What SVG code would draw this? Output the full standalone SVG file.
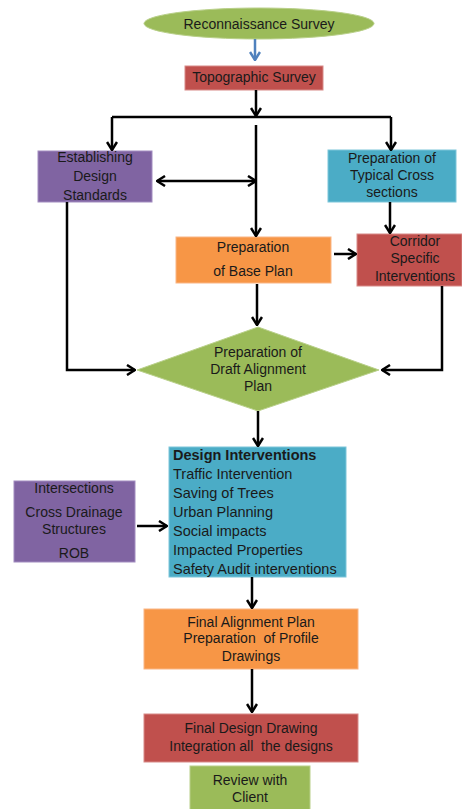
<svg xmlns="http://www.w3.org/2000/svg" width="462" height="809" viewBox="0 0 462 809">
<style>
text{font-family:"Liberation Sans",Arial,sans-serif;font-size:14px;fill:#1a1a1a;text-anchor:middle}
.l{text-anchor:start;font-size:14.5px}
.b{font-weight:bold}
.c{fill:none;stroke:#000;stroke-width:2.5}
.purple{fill:#8064A2;stroke:#A28CC0;stroke-width:1}
.blue{fill:#4BACC6;stroke:#7CC6DA;stroke-width:1}
.red{fill:#C0504D;stroke:#D88A88;stroke-width:1}
.orange{fill:#F79646;stroke:#FAB685;stroke-width:1}
.green{fill:#9BBB59;stroke:#B9D08A;stroke-width:1}
</style>
<defs>
<marker id="ah" viewBox="0 0 10 12" markerWidth="10" markerHeight="12" refX="9" refY="6" orient="auto-start-reverse" markerUnits="userSpaceOnUse">
<path d="M1,1 L9,6 L1,11" fill="none" stroke="#000" stroke-width="2.5"/>
</marker>
<marker id="ahb" viewBox="0 0 10 12" markerWidth="10" markerHeight="12" refX="9" refY="6" orient="auto" markerUnits="userSpaceOnUse">
<path d="M1,1 L9,6 L1,11" fill="none" stroke="#4F81BD" stroke-width="2.5"/>
</marker>
</defs>
<g id="n-recon"><ellipse class="green" cx="259" cy="23.5" rx="115" ry="15.5"/><text x="259" y="28.5">Reconnaissance Survey</text></g>
<g id="n-topo"><rect class="red" x="185" y="66" width="138" height="24"/><text x="254" y="82">Topographic Survey</text></g>
<g id="n-estab"><rect class="purple" x="38" y="151" width="114" height="51"/><text x="95" y="162">Establishing</text><text x="95" y="181">Design</text><text x="95" y="200">Standards</text></g>
<g id="n-cross"><rect class="blue" x="328" y="150" width="128" height="52"/><text x="392" y="163">Preparation of</text><text x="392" y="180">Typical Cross</text><text x="392" y="197">sections</text></g>
<g id="n-base"><rect class="orange" x="176" y="237" width="155" height="46"/><text x="253" y="252">Preparation</text><text x="253" y="276">of Base Plan</text></g>
<g id="n-corr"><rect class="red" x="357" y="234" width="105" height="52"/><text x="415" y="246">Corridor</text><text x="415" y="263">Specific</text><text x="415" y="281">Interventions</text></g>
<g id="n-draft"><polygon class="green" points="258,327 379,370 258,411 137,370"/><text x="258" y="357">Preparation of</text><text x="258" y="374">Draft Alignment</text><text x="258" y="391">Plan</text></g>
<g id="n-design"><rect class="blue" x="169" y="447" width="177" height="130"/>
<text class="l b" x="173" y="460">Design Interventions</text>
<text class="l" x="173" y="479">Traffic Intervention</text>
<text class="l" x="173" y="498">Saving of Trees</text>
<text class="l" x="173" y="517">Urban Planning</text>
<text class="l" x="173" y="536">Social impacts</text>
<text class="l" x="173" y="555">Impacted Properties</text>
<text class="l" x="173" y="574">Safety Audit interventions</text></g>
<g id="n-inter"><rect class="purple" x="14" y="481" width="121" height="81"/><text x="74" y="493">Intersections</text><text x="74" y="517">Cross Drainage</text><text x="74" y="534">Structures</text><text x="74" y="558">ROB</text></g>
<g id="n-final"><rect class="orange" x="144" y="609" width="214" height="60"/><text x="251" y="627">Final Alignment Plan</text><text x="251" y="643" xml:space="preserve">Preparation  of Profile</text><text x="251" y="661">Drawings</text></g>
<g id="n-design2"><rect class="red" x="144" y="714" width="214" height="48"/><text x="251" y="733">Final Design Drawing</text><text x="251" y="751" xml:space="preserve">Integration all  the designs</text></g>
<g id="n-review"><rect class="green" x="190" y="766" width="120" height="45"/><text x="250" y="785">Review with</text><text x="250" y="802">Client</text></g>
<g id="connectors">
<path d="M255,39 V60" fill="none" stroke="#4F81BD" stroke-width="2.5" marker-end="url(#ahb)"/>
<path class="c" d="M256,90 V116" marker-end="url(#ah)"/>
<path class="c" d="M112,117 H391"/>
<path class="c" d="M112,117 V150" marker-end="url(#ah)"/>
<path class="c" d="M391,117 V150" marker-end="url(#ah)"/>
<path class="c" d="M256,125 V236" marker-end="url(#ah)"/>
<path class="c" d="M157,181 H256" marker-start="url(#ah)" marker-end="url(#ah)"/>
<path class="c" d="M390,202 V233" marker-end="url(#ah)"/>
<path class="c" d="M334,254 H356" marker-end="url(#ah)"/>
<path class="c" d="M67,202 V370 H135" marker-end="url(#ah)"/>
<path class="c" d="M442,286 V370 H382" marker-end="url(#ah)"/>
<path class="c" d="M257,284 V325" marker-end="url(#ah)"/>
<path class="c" d="M258,411 V446" marker-end="url(#ah)"/>
<path class="c" d="M137,526 H167" marker-end="url(#ah)"/>
<path class="c" d="M252,577 V608" marker-end="url(#ah)"/>
<path class="c" d="M252,669 V712" marker-end="url(#ah)"/>
</g>
</svg>
